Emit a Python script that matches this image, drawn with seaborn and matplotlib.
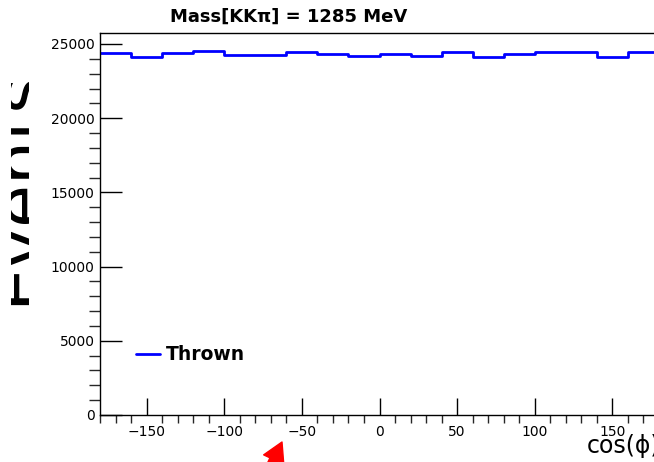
import numpy as np
import matplotlib
matplotlib.use("Agg")
import matplotlib.pyplot as plt
from matplotlib.transforms import Bbox
import seaborn as sns

#-- data --
bin_edges = list(range(-180, 181, 20))
thrown = [24414, 24145, 24414, 24548, 24259, 24259, 24481, 24350, 24212,
          24303, 24212, 24438, 24145, 24326, 24438, 24438, 24145, 24481]
bin_centers = [0.5 * (a + b) for a, b in zip(bin_edges[:-1], bin_edges[1:])]
title = "Mass[KK\u03c0] = 1285 MeV"

sns.set_theme(style="ticks")
plt.rcParams.update({'font.family'   : ['DejaVu Sans'],
                     'text.color'     : 'black',
                     'axes.linewidth' : 1.0,
                     'xtick.labelsize': 10,
                     'ytick.labelsize': 10})

W, H = 654, 462
fig = plt.figure(figsize=(W / 100, H / 100), dpi=100)
ax = fig.add_axes([100 / W, 47 / H, 559 / W, 382 / H])

sns.histplot(x=bin_centers, weights=thrown, bins=bin_edges, element='step',
             fill=False, color='#0000ff', linewidth=2, ax=ax, label='Thrown')

ax.set_xlim(-180, 180)
ax.set_ylim(0, 25740)
ax.set_xlabel('')
ax.set_ylabel('')
ax.set_xticks(np.arange(-150, 151, 50))
ax.set_xticks(np.arange(-180, 181, 10), minor=True)
ax.set_yticks(np.arange(0, 25001, 5000))
ax.set_yticks(np.arange(0, 25741, 1000), minor=True)
ax.tick_params(direction='in', colors='black')
ax.tick_params(axis='x', which='major', length=12, width=1, pad=7)
ax.tick_params(axis='x', which='minor', length=6, width=1)
ax.tick_params(axis='y', which='major', length=16, width=1, pad=4)
ax.tick_params(axis='y', which='minor', length=8, width=1)
for s in ax.spines.values():
    s.set_color('black')

leg = ax.legend(loc='center left', bbox_to_anchor=(136 / W, 1 - 355 / H),
                bbox_transform=fig.transFigure, frameon=False, borderpad=0,
                borderaxespad=0, handlelength=1.3, handletextpad=0.32,
                prop={'weight': 'bold', 'size': 13.5})

fig.text(289 / W, 1 - 17 / H, title, ha='center', va='center',
         fontsize=13, fontweight='bold')
fig.text(587 / W, 9 / H, "cos(\u03d5)", ha='left', va='baseline', fontsize=17)

# cut-off y title at the left border
ylab = fig.text(52 / W, 1 - 305 / H, "Events", rotation=90, ha='right',
                va='bottom', fontsize=50)
ylab.set_clip_box(Bbox.from_extents(11, 0, 29, H))
ylab.set_clip_on(True)

# red arrow at the bottom
ax.annotate('', xy=(282, 20), xytext=(266, -14), xycoords='figure pixels',
            textcoords='figure pixels', annotation_clip=False,
            arrowprops=dict(color='red', width=6, headwidth=16, headlength=14))

fig.savefig('out.png', dpi=100)
